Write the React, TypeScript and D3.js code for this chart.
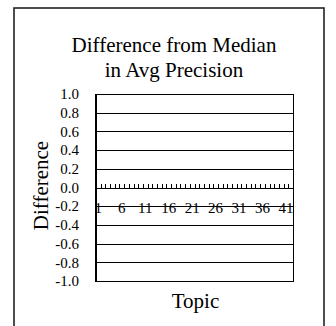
import React from "react";
import * as d3 from "d3";

const topics: number[] = [
  1, 2, 3, 4, 5, 6, 7, 8, 9, 10, 11, 12, 13, 14, 15, 16, 17, 18, 19, 20, 21,
  22, 23, 24, 25, 26, 27, 28, 29, 30, 31, 32, 33, 34, 35, 36, 37, 38, 39, 40,
  41, 42,
];
const differences: number[] = [
  0, 0, 0, 0, 0, 0, 0, 0, 0, 0, 0, 0, 0, 0, 0, 0, 0, 0, 0, 0, 0, 0, 0, 0, 0,
  0, 0, 0, 0, 0, 0, 0, 0, 0, 0, 0, 0, 0, 0, 0, 0, 0,
];
const yTicks: number[] = [1.0, 0.8, 0.6, 0.4, 0.2, 0.0, -0.2, -0.4, -0.6, -0.8, -1.0];
const xLabelTopics: number[] = [1, 6, 11, 16, 21, 26, 31, 36, 41];
const titleLines: string[] = ["Difference from Median", "in Avg Precision"];
const yTitle = "Difference";
const xTitle = "Topic";

const FONT = "Liberation Serif";

export default function App() {
  const W = 336;
  const H = 326;
  const left = 96;
  const right = 293;
  const top = 94;
  const bottom = 281;

  const x = d3
    .scaleBand<number>()
    .domain(topics)
    .range([left, right])
    .padding(0.2);
  const xb = d3.scaleBand<number>().domain(topics).range([left, right]).padding(0);
  const y = d3.scaleLinear().domain([-1, 1]).range([bottom, top]);
  const fmt = (v: number) => d3.format(".1f")(v).replace("\u2212", "-");
  const crisp = (v: number) => Math.round(v) + 0.5;
  const y0 = y(0);

  const boundaries = topics.map((t) => xb(t)!).concat([right]);

  return (
    <svg
      width={W}
      height={H}
      style={{ position: "absolute", left: 0, top: 0, background: "#fff" }}
    >
      {/* outer frame */}
      <rect x={14} y={8} width={310} height={330} fill="#fff" stroke="#222" strokeWidth={1.6} />

      {/* title */}
      {titleLines.map((t, i) => (
        <text
          key={i}
          x={174}
          y={52 + i * 25}
          textAnchor="middle"
          fontFamily={FONT}
          fontSize={21}
          fill="#000"
        >
          {t}
        </text>
      ))}

      {/* gridlines */}
      {yTicks
        .filter((v) => v !== 1 && v !== -1 && v !== 0)
        .map((v) => (
          <line key={v} x1={left} x2={right} y1={crisp(y(v))} y2={crisp(y(v))} stroke="#000" strokeWidth={1} />
        ))}

      {/* plot border */}
      <rect
        x={left + 0.5}
        y={crisp(top)}
        width={right - left}
        height={Math.round(bottom) - Math.round(top)}
        fill="none"
        stroke="#000"
        strokeWidth={1}
      />
      <line x1={left} x2={left} y1={top} y2={bottom + 1} stroke="#000" strokeWidth={2} />

      {/* bars */}
      {topics.map((t, i) => {
        const v = differences[i];
        return (
          <rect
            key={t}
            x={x(t)}
            width={x.bandwidth()}
            y={Math.min(y(v), y0)}
            height={Math.abs(y(v) - y0)}
            fill="#000"
          />
        );
      })}

      {/* zero axis with tick marks */}
      <line x1={left} x2={right} y1={crisp(y0)} y2={crisp(y0)} stroke="#000" strokeWidth={1} />
      {boundaries.map((bx, i) => (
        <line
          key={i}
          x1={Math.round(bx) + 0.5}
          x2={Math.round(bx) + 0.5}
          y1={crisp(y0) - 4.5}
          y2={crisp(y0)}
          stroke="#000"
          strokeWidth={1}
        />
      ))}

      {/* y tick labels */}
      {yTicks.map((v) => (
        <text
          key={v}
          x={79}
          y={y(v)}
          dy="0.35em"
          textAnchor="end"
          fontFamily={FONT}
          fontSize={15}
          fill="#000"
        >
          {fmt(v)}
        </text>
      ))}

      {/* x tick labels */}
      {xLabelTopics.map((t) => (
        <text
          key={t}
          x={xb(t)! + xb.bandwidth() / 2}
          y={213}
          textAnchor="middle"
          fontFamily={FONT}
          fontSize={15}
          fill="#000"
        >
          {t}
        </text>
      ))}

      {/* axis titles */}
      <text
        transform={`translate(48,185.5) rotate(-90)`}
        textAnchor="middle"
        fontFamily={FONT}
        fontSize={21}
        fill="#000"
      >
        {yTitle}
      </text>
      <text x={195.5} y={308} textAnchor="middle" fontFamily={FONT} fontSize={21} fill="#000">
        {xTitle}
      </text>
    </svg>
  );
}
